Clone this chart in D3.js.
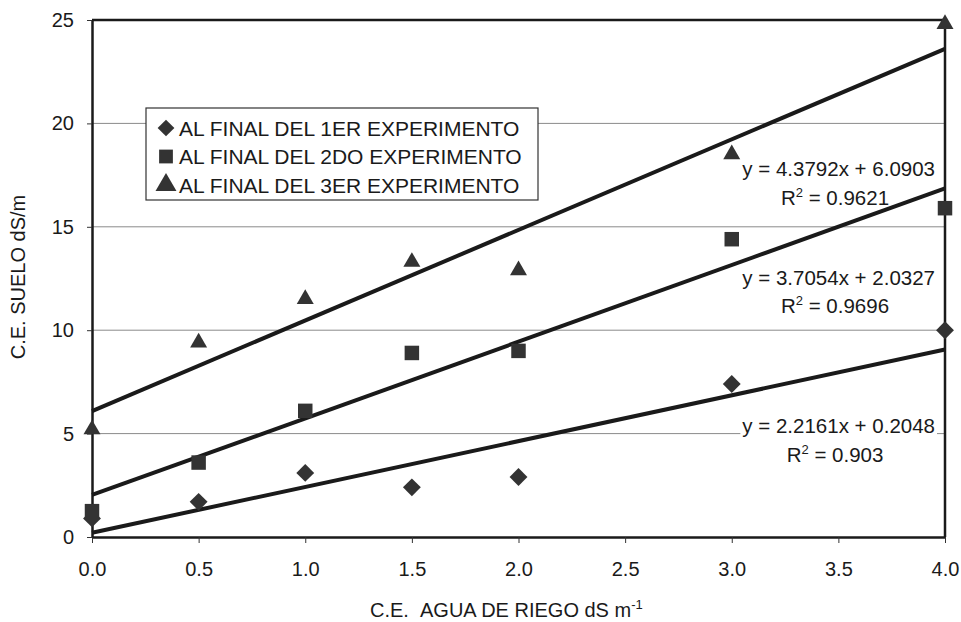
<!DOCTYPE html>
<html>
<head>
<meta charset="utf-8">
<script src="https://cdn.jsdelivr.net/npm/d3@7"></script>
<style>
  body { margin: 0; background: #fff; }
  text { font-family: "Liberation Sans", Arial, sans-serif; fill: #1a1a1a; }
</style>
</head>
<body>
<div id="chart"></div>
<script>
// C.E. suelo vs C.E. agua de riego
const xVals = [0, 0.5, 1.0, 1.5, 2.0, 3.0, 4.0];
const exp1 = [0.9, 1.7, 3.1, 2.4, 2.9, 7.4, 10.0];
const exp2 = [1.25, 3.6, 6.1, 8.9, 9.0, 14.4, 15.9];
const exp3 = [5.2, 9.4, 11.5, 13.3, 12.9, 18.5, 24.8];
const seriesNames = ["AL FINAL DEL 1ER EXPERIMENTO", "AL FINAL DEL 2DO EXPERIMENTO", "AL FINAL DEL 3ER EXPERIMENTO"];
const fits = [{m: 2.2161, b: 0.2048, r2: "0.903"}, {m: 3.7054, b: 2.0327, r2: "0.9696"}, {m: 4.3792, b: 6.0903, r2: "0.9621"}];
const xTicks = [0, 0.5, 1, 1.5, 2, 2.5, 3, 3.5, 4];
const yTicks = [0, 5, 10, 15, 20, 25];

const W = 961, H = 622;
const margin = {top: 20, right: 16, bottom: 85, left: 92};
const svg = d3.select("#chart").append("svg").attr("width", W).attr("height", H);

const x = d3.scaleLinear().domain([0, 4]).range([margin.left, W - margin.right]);
const y = d3.scaleLinear().domain([0, 25]).range([H - margin.bottom, margin.top]);

// gridlines
svg.append("g").selectAll("line").data(yTicks.filter(d => d > 0 && d < 25)).join("line")
  .attr("x1", x(0)).attr("x2", x(4)).attr("y1", d => y(d)).attr("y2", d => y(d))
  .attr("stroke", "#8a8a8a").attr("stroke-width", 1);

// axes
const xAxis = svg.append("g").attr("transform", `translate(0,${y(0)})`)
  .call(d3.axisBottom(x).tickValues(xTicks).tickFormat(d3.format(".1f")).tickSize(6).tickPadding(19).tickSizeOuter(0));
const yAxis = svg.append("g").attr("transform", `translate(${x(0)},0)`)
  .call(d3.axisLeft(y).tickValues(yTicks).tickSize(5).tickPadding(13).tickSizeOuter(0));
[xAxis, yAxis].forEach(g => {
  g.selectAll("text").style("font-size", "20px").attr("fill", "#1a1a1a");
  g.selectAll("line").attr("stroke", "#333");
  g.select(".domain").attr("stroke", "#1a1a1a").attr("stroke-width", 2.5);
});
// top and right frame
svg.append("path").attr("d", `M${x(0)},${y(25)}H${x(4)}V${y(0)}`)
  .attr("fill", "none").attr("stroke", "#1a1a1a").attr("stroke-width", 2.5);

// equation labels
const eqPos = [{ey: 433, ry: 462}, {ey: 285, ry: 313}, {ey: 176, ry: 205}];
fits.forEach((f, i) => {
  const g = svg.append("g");
  const t1 = g.append("text").attr("x", 935).attr("y", eqPos[i].ey).attr("text-anchor", "end")
    .style("font-size", "20.5px").text(`y = ${f.m.toFixed(4)}x + ${f.b.toFixed(4)}`);
  const bb = t1.node().getBBox();
  g.insert("rect", "text").attr("x", bb.x - 2).attr("y", bb.y).attr("width", bb.width + 4).attr("height", bb.height * 2 + 6)
    .attr("fill", "#fff");
  const t2 = g.append("text").attr("x", 835).attr("y", eqPos[i].ry).attr("text-anchor", "middle").style("font-size", "20.5px");
  t2.append("tspan").text("R");
  t2.append("tspan").attr("dy", -8).style("font-size", "13px").text("2");
  t2.append("tspan").attr("dy", 8).text(" = " + f.r2);
});

// trend lines
svg.append("g").selectAll("line").data(fits).join("line")
  .attr("x1", x(0)).attr("x2", x(4)).attr("y1", d => y(d.b)).attr("y2", d => y(d.m * 4 + d.b))
  .attr("stroke", "#1a1a1a").attr("stroke-width", 4);

// markers: diamond is a square turned 45 degrees
const symbols = [d3.symbolSquare, d3.symbolSquare, d3.symbolTriangle];
const sizes = [160, 210, 125];
const turn = ["rotate(45)", "", ""];
[exp1, exp2, exp3].forEach((vals, i) => {
  svg.append("g").selectAll("path").data(vals).join("path")
    .attr("transform", (d, j) => `translate(${x(xVals[j])},${y(d)}) ${turn[i]}`)
    .attr("d", d3.symbol().type(symbols[i]).size(sizes[i])())
    .attr("fill", "#333");
});

// legend
const lg = svg.append("g").attr("transform", "translate(146,108)");
lg.append("rect").attr("width", 392).attr("height", 92).attr("fill", "#fff").attr("stroke", "#333").attr("stroke-width", 1.2);
seriesNames.forEach((name, i) => {
  const cy = 20 + i * 28.5;
  lg.append("path").attr("transform", `translate(20,${cy}) ${turn[i]}`)
    .attr("d", d3.symbol().type(symbols[i]).size(i === 0 ? 140 : 190)()).attr("fill", "#333");
  lg.append("text").attr("x", 33).attr("y", cy + 7.5).style("font-size", "21px").text(name);
});

// axis titles
svg.append("text").attr("transform", "translate(25,277) rotate(-90)").attr("text-anchor", "middle")
  .style("font-size", "20px").text("C.E. SUELO dS/m");
const xt = svg.append("text").attr("x", 370).attr("y", 617).style("font-size", "20px");
xt.append("tspan").text("C.E.\u00a0\u00a0AGUA DE RIEGO dS m");
xt.append("tspan").attr("dy", -8).style("font-size", "13px").text("-1");
</script>
</body>
</html>
